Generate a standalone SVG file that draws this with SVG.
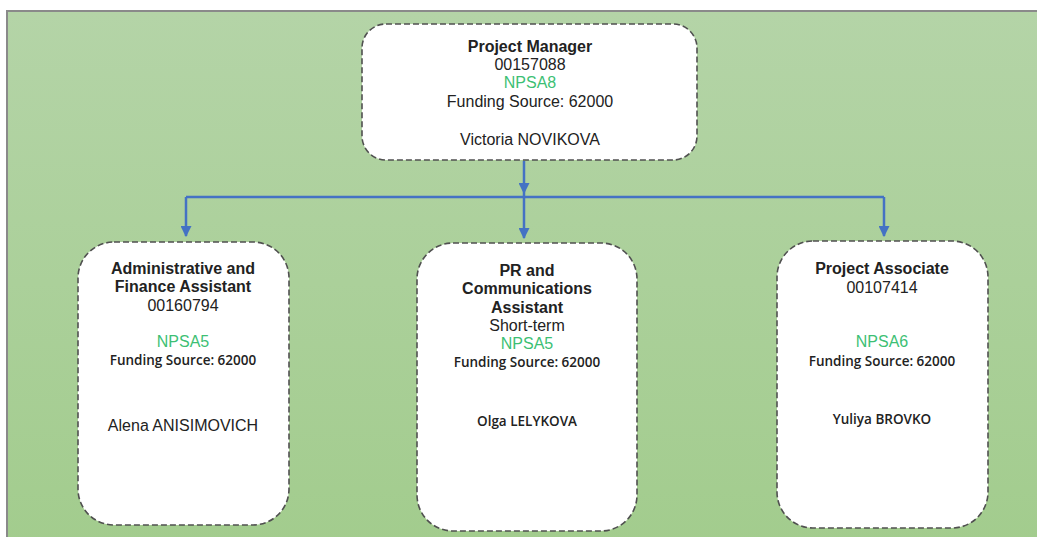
<svg xmlns="http://www.w3.org/2000/svg" width="1037" height="537" viewBox="0 0 1037 537">
  <defs>
    <linearGradient id="bg" x1="0" y1="0" x2="0" y2="1">
      <stop offset="0" stop-color="#b4d4a7"/>
      <stop offset="1" stop-color="#a2cc8d"/>
    </linearGradient>
    <marker id="arrow" viewBox="0 0 10 10" refX="9" refY="5" markerWidth="4.4" markerHeight="4.4" markerUnits="strokeWidth" orient="auto">
      <path d="M0,0 L10,5 L0,10 z" fill="#4472c4"/>
    </marker>
    <style>
      .box { fill: #ffffff; stroke: #505050; stroke-width: 1.6; stroke-dasharray: 6 3; }
      .t { font-family: "Liberation Sans", Arial, sans-serif; font-size: 16px; fill: #222222; text-anchor: middle; }
      .b { font-weight: bold; }
      .g { fill: #3dbf74; }
      .s { font-family: "Open Sans", "Liberation Sans", sans-serif; font-size: 13.5px; font-weight: 600; fill: #222222; text-anchor: middle; }
      .link { fill: none; stroke: #4472c4; stroke-width: 2.5; }
    </style>
  </defs>

  <!-- canvas -->
  <rect x="8" y="12" width="1040" height="540" fill="url(#bg)"/>
  <path d="M7,537 V11 H1037" fill="none" stroke="#8a8a8a" stroke-width="2"/>

  <!-- connectors -->
  <g id="connectors">
    <path class="link" d="M524,161 V193" marker-end="url(#arrow)"/>
    <path class="link" d="M186,197 H884"/>
    <path class="link" d="M186,197 V236" marker-end="url(#arrow)"/>
    <path class="link" d="M524,193 V238" marker-end="url(#arrow)"/>
    <path class="link" d="M884,197 V236" marker-end="url(#arrow)"/>
  </g>

  <!-- Project Manager -->
  <g id="project-manager">
    <rect class="box" x="362" y="24" width="335" height="136" rx="24"/>
    <text class="t b" x="530" y="52">Project Manager</text>
    <text class="t" x="530" y="70">00157088</text>
    <text class="t g" x="530" y="88">NPSA8</text>
    <text class="t" x="530" y="107">Funding Source: 62000</text>
    <text class="t" x="530" y="145">Victoria NOVIKOVA</text>
  </g>

  <!-- Administrative and Finance Assistant -->
  <g id="admin-finance-assistant">
    <rect class="box" x="78" y="242" width="211" height="283" rx="36"/>
    <text class="t b" x="183" y="274">Administrative and</text>
    <text class="t b" x="183" y="292">Finance Assistant</text>
    <text class="t" x="183" y="311">00160794</text>
    <text class="t g" x="183" y="347">NPSA5</text>
    <text class="s" x="183" y="365">Funding Source: 62000</text>
    <text class="t" x="183" y="431">Alena ANISIMOVICH</text>
  </g>

  <!-- PR and Communications Assistant -->
  <g id="pr-communications-assistant">
    <rect class="box" x="417" y="243" width="220" height="288" rx="36"/>
    <text class="t b" x="527" y="276">PR and</text>
    <text class="t b" x="527" y="294">Communications</text>
    <text class="t b" x="527" y="313">Assistant</text>
    <text class="t" x="527" y="331">Short-term</text>
    <text class="t g" x="527" y="349">NPSA5</text>
    <text class="s" x="527" y="367">Funding Source: 62000</text>
    <text class="s" x="527" y="426">Olga LELYKOVA</text>
  </g>

  <!-- Project Associate -->
  <g id="project-associate">
    <rect class="box" x="777" y="241" width="211" height="287" rx="36"/>
    <text class="t b" x="882" y="274">Project Associate</text>
    <text class="t" x="882" y="293">00107414</text>
    <text class="t g" x="882" y="347">NPSA6</text>
    <text class="s" x="882" y="366">Funding Source: 62000</text>
    <text class="s" x="882" y="424">Yuliya BROVKO</text>
  </g>
</svg>
